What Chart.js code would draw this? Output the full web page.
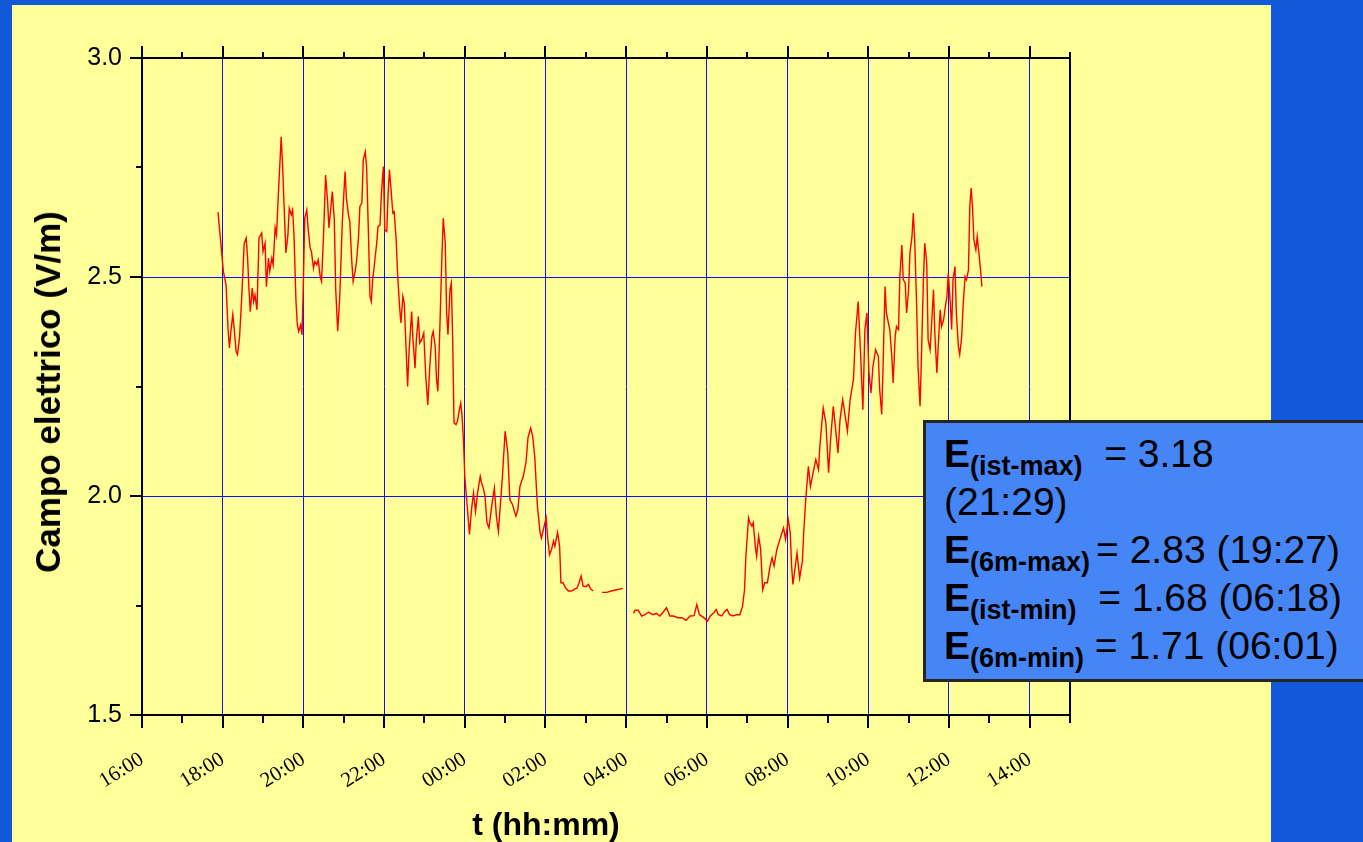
<!DOCTYPE html>
<html>
<head>
<meta charset="utf-8">
<script src="https://cdn.jsdelivr.net/npm/chart.js@4.4.1/dist/chart.umd.min.js"></script>
<style>
  html, body { margin: 0; padding: 0; width: 1363px; height: 842px; overflow: hidden; background: #1159d8; }
  #panel { position: absolute; left: 12px; top: 5px; width: 1259px; height: 837px; background: #ffff99; }
  #wrap { position: absolute; left: 0; top: 0; width: 1363px; height: 842px; }
  #ytitle { position: absolute; left: 48px; top: 392px; transform: translate(-50%, -50%) rotate(-90deg);
            font: bold 35px "Liberation Sans", Arial, sans-serif; color: #000; white-space: nowrap; }
  #xtitle { position: absolute; left: 546px; top: 806px; transform: translateX(-50%); line-height: 32px;
            font: bold 32px "Liberation Sans", Arial, sans-serif; color: #000; white-space: nowrap; }
  #info { position: absolute; left: 923px; top: 420px; width: 470px; height: 262px; box-sizing: border-box;
          border: 3px solid #262626; background: #4585f5; padding: 7px 0 0 18px;
          font: 39px "Liberation Sans", Arial, sans-serif; color: #000; }
  #info .ln { height: 48px; line-height: 48px; white-space: nowrap; }
  #info b.E { font-weight: bold; }
  #info sub { font-size: 27px; font-weight: bold; vertical-align: baseline; position: relative; top: 8px; line-height: 0; }
  #info .gap { margin-left: 6px; }
</style>
</head>
<body>
<div id="panel"></div>
<div id="wrap"><canvas id="c" width="1363" height="842"></canvas></div>
<div id="ytitle">Campo elettrico (V/m)</div>
<div id="xtitle">t (hh:mm)</div>
<div id="info">
  <div class="ln"><b class="E">E</b><sub>(ist-max)</sub>&nbsp;&nbsp;= 3.18</div>
  <div class="ln">(21:29)</div>
  <div class="ln"><b class="E">E</b><sub>(6m-max)</sub><span class="gap">= 2.83 (19:27)</span></div>
  <div class="ln"><b class="E">E</b><sub>(ist-min)</sub>&nbsp;&nbsp;= 1.68 (06:18)</div>
  <div class="ln"><b class="E">E</b><sub>(6m-min)</sub>&nbsp;= 1.71 (06:01)</div>
</div>
<script>
// ---- data: time in minutes after 16:00, field in V/m (null = gap) ----
const times = [113,119,121,125,128,130,132,135,137,140,142,145,148,152,155,157,159,161,164,166,168,171,174,178,180,183,185,188,190,193,195,198,200,203,207,209,212,214,217,219,222,224,226,229,231,233,236,238,240,242,245,247,250,252,255,257,260,262,265,267,270,273,276,278,281,283,286,288,291,294,298,302,304,307,309,312,314,317,319,322,324,327,329,332,334,337,339,341,343,345,349,351,354,356,359,361,364,366,368,370,373,375,378,380,383,385,388,390,393,395,397,401,403,406,408,411,413,416,419,422,425,428,431,433,436,438,440,443,446,448,451,453,455,458,460,462,464,467,469,472,474,476,478,480,484,487,490,493,496,499,503,505,508,510,513,516,520,524,527,530,532,536,540,544,547,551,556,559,562,567,571,574,578,581,584,588,592,594,598,601,603,606,609,612,614,618,621,623,626,630,634,639,644,647,650,653,656,660,664,667,671,675,684,691,698,706,715,722,731,733,738,743,748,753,760,765,770,774,780,785,790,797,803,809,815,821,825,829,834,837,841,845,850,854,857,862,867,870,874,879,884,889,893,896,898,902,904,907,909,912,914,917,920,923,926,930,934,937,940,944,947,950,954,957,961,964,966,968,974,978,982,984,987,991,994,998,1002,1006,1008,1011,1013,1017,1021,1024,1028,1032,1035,1038,1042,1045,1049,1053,1058,1061,1065,1069,1072,1075,1078,1081,1084,1087,1091,1095,1097,1100,1102,1105,1107,1110,1112,1115,1117,1120,1122,1125,1127,1130,1132,1135,1137,1140,1142,1145,1147,1149,1152,1154,1157,1159,1162,1164,1167,1169,1172,1174,1177,1179,1182,1184,1187,1189,1192,1194,1197,1199,1202,1204,1206,1209,1211,1214,1216,1219,1221,1224,1226,1229,1231,1233,1235,1237,1240,1242,1245,1247,1249];
const values = [2.648,2.547,2.513,2.482,2.380,2.338,2.373,2.414,2.384,2.330,2.323,2.361,2.444,2.577,2.589,2.544,2.475,2.421,2.475,2.444,2.459,2.425,2.589,2.600,2.558,2.577,2.478,2.543,2.513,2.543,2.528,2.612,2.596,2.695,2.820,2.756,2.634,2.555,2.596,2.657,2.642,2.653,2.596,2.444,2.391,2.376,2.391,2.368,2.490,2.634,2.653,2.612,2.566,2.558,2.520,2.535,2.528,2.539,2.501,2.490,2.596,2.733,2.672,2.612,2.661,2.695,2.630,2.475,2.376,2.452,2.630,2.741,2.680,2.642,2.627,2.535,2.490,2.513,2.535,2.592,2.661,2.669,2.767,2.786,2.752,2.585,2.456,2.444,2.494,2.520,2.577,2.615,2.619,2.691,2.752,2.608,2.604,2.691,2.745,2.706,2.646,2.649,2.585,2.509,2.433,2.395,2.456,2.440,2.326,2.250,2.326,2.421,2.357,2.292,2.357,2.410,2.349,2.357,2.372,2.273,2.208,2.296,2.364,2.376,2.341,2.266,2.239,2.387,2.547,2.634,2.577,2.418,2.368,2.471,2.486,2.357,2.167,2.163,2.170,2.197,2.212,2.182,2.129,2.045,1.969,1.912,1.969,2.007,1.965,2.007,2.045,2.030,2.015,2.000,1.939,1.927,1.977,2.018,1.954,1.919,1.961,2.045,2.148,2.098,1.992,1.980,1.954,1.969,2.022,2.045,2.076,2.133,2.155,2.136,2.091,1.977,1.916,1.904,1.931,1.950,1.908,1.866,1.878,1.897,1.885,1.917,1.885,1.802,1.802,1.790,1.783,1.783,1.788,1.790,1.802,1.817,1.794,1.793,1.798,1.788,1.783,null,1.780,1.780,1.783,1.786,1.789,null,1.732,1.739,1.739,1.726,1.729,1.735,1.729,1.732,1.726,1.733,1.745,1.726,1.726,1.722,1.722,1.716,1.726,1.727,1.752,1.729,1.724,1.720,1.714,1.726,1.733,1.741,1.729,1.726,1.737,1.741,1.729,1.726,1.729,1.729,1.748,1.786,1.862,1.950,1.939,1.931,1.939,1.885,1.862,1.908,1.878,1.786,1.802,1.802,1.840,1.859,1.840,1.878,1.893,1.908,1.927,1.901,1.946,1.916,1.840,1.798,1.870,1.813,1.851,1.916,1.992,2.068,2.022,2.053,2.083,2.060,2.113,2.167,2.201,2.167,2.053,2.129,2.205,2.144,2.098,2.174,2.220,2.190,2.148,2.220,2.266,2.372,2.444,2.311,2.197,2.380,2.418,2.281,2.235,2.296,2.334,2.319,2.243,2.186,2.296,2.478,2.418,2.395,2.380,2.319,2.258,2.364,2.387,2.380,2.501,2.573,2.494,2.486,2.418,2.471,2.555,2.592,2.646,2.585,2.433,2.296,2.205,2.311,2.494,2.577,2.532,2.357,2.334,2.387,2.471,2.372,2.281,2.341,2.425,2.387,2.402,2.425,2.456,2.509,2.440,2.380,2.494,2.524,2.418,2.341,2.323,2.364,2.433,2.501,2.494,2.516,2.661,2.703,2.661,2.585,2.562,2.592,2.547,2.516,2.478];

// ---- axes ----
const xTickValues = [0,120,240,360,480,600,720,840,960,1080,1200,1320];
const xTickLabels = ['16:00','18:00','20:00','22:00','00:00','02:00','04:00','06:00','08:00','10:00','12:00','14:00'];
const xMinorValues = [60,180,300,420,540,660,780,900,1020,1140,1260,1380];
const yTickValues = [1.5, 2.0, 2.5, 3.0];
const yMinorValues = [1.75, 2.25, 2.75];
const X_MIN = 0, X_MAX = 1380, Y_MIN = 1.5, Y_MAX = 3.0;

const points = times.map((t, i) => ({ x: t, y: values[i] }));

const framePlugin = {
  id: 'frame',
  afterDraw(chart) {
    const { ctx, chartArea: a, scales: { x, y } } = chart;
    ctx.save();
    ctx.strokeStyle = '#000';
    ctx.lineWidth = 2;
    ctx.strokeRect(a.left, a.top, a.right - a.left, a.bottom - a.top);
    ctx.beginPath();
    const tickX = (v, lenB, lenT) => {
      const px = Math.round(x.getPixelForValue(v));
      ctx.moveTo(px, a.bottom); ctx.lineTo(px, a.bottom + lenB);
      ctx.moveTo(px, a.top); ctx.lineTo(px, a.top - lenT);
    };
    xTickValues.forEach(v => tickX(v, 13, 12));
    xMinorValues.forEach(v => tickX(v, 8, 6));
    const tickY = (v, len) => {
      const py = Math.round(y.getPixelForValue(v));
      ctx.moveTo(a.left, py); ctx.lineTo(a.left - len, py);
    };
    yTickValues.forEach(v => tickY(v, 12));
    yMinorValues.forEach(v => tickY(v, 6));
    ctx.stroke();
    ctx.restore();
  }
};

new Chart(document.getElementById('c'), {
  type: 'line',
  data: {
    datasets: [{
      data: points,
      borderColor: '#ff0000',
      borderWidth: 1.4,
      pointRadius: 0,
      tension: 0,
      spanGaps: false,
      fill: false
    }]
  },
  options: {
    responsive: false,
    devicePixelRatio: 1,
    animation: false,
    events: [],
    layout: { padding: { top: 58, right: 293, left: 0, bottom: 0 } },
    plugins: { legend: { display: false }, tooltip: { enabled: false } },
    scales: {
      x: {
        type: 'linear', position: 'bottom', min: X_MIN, max: X_MAX,
        afterBuildTicks: s => { s.ticks = xTickValues.map(v => ({ value: v })); },
        afterFit: s => { s.height = 127; },
        border: { display: false },
        grid: {
          drawTicks: false, lineWidth: 1,
          color: c => (c.tick && c.tick.value === X_MIN) ? 'rgba(0,0,0,0)' : '#1010ff'
        },
        ticks: {
          autoSkip: false, minRotation: 32, maxRotation: 32, padding: 32, color: '#000',
          font: { family: '"Liberation Serif", "Times New Roman", serif', size: 21 },
          callback: (v, i) => xTickLabels[i]
        }
      },
      y: {
        type: 'linear', position: 'left', min: Y_MIN, max: Y_MAX,
        afterBuildTicks: s => { s.ticks = yTickValues.map(v => ({ value: v })); },
        afterFit: s => { s.width = 142; },
        border: { display: false },
        grid: {
          drawTicks: false, lineWidth: 1,
          color: c => (c.tick && (c.tick.value === Y_MIN || c.tick.value === Y_MAX)) ? 'rgba(0,0,0,0)' : '#1010ff'
        },
        ticks: {
          padding: 20, color: '#000',
          font: { family: '"Liberation Sans", Arial, sans-serif', size: 25 },
          callback: v => Number(v).toFixed(1)
        }
      }
    }
  },
  plugins: [framePlugin]
});
</script>
</body>
</html>
